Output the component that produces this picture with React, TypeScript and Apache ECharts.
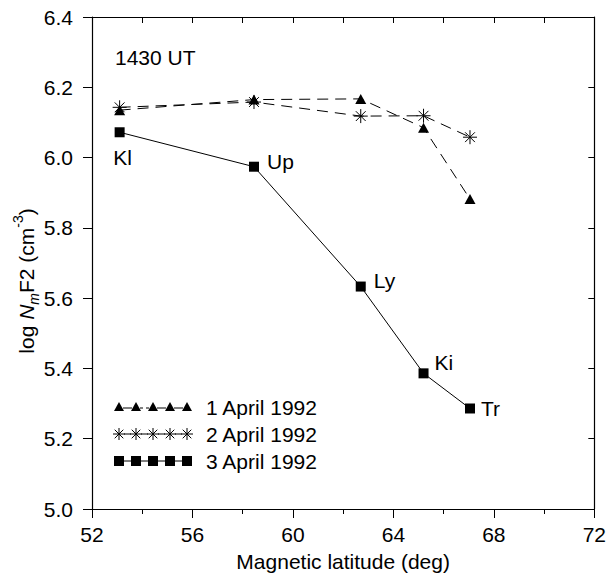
import React, { useEffect, useRef } from "react";
import * as echarts from "echarts";

const latitudes = [53.1, 58.45, 62.7, 65.2, 67.05];
const april1 = [6.135, 6.165, 6.167, 6.085, 5.882];
const april2 = [6.143, 6.158, 6.118, 6.119, 6.058];
const april3 = [6.072, 5.974, 5.633, 5.386, 5.286];
const stations = ["Kl", "Up", "Ly", "Ki", "Tr"];
const seriesNames = ["1 April 1992", "2 April 1992", "3 April 1992"];
const yTicks = [5.0, 5.2, 5.4, 5.6, 5.8, 6.0, 6.2, 6.4];
const xTicks = [52, 56, 60, 64, 68, 72];

const STAR = "path://M5,0L5,10M0,5L10,5M1.5,1.5L8.5,8.5M8.5,1.5L1.5,8.5";
const FONT = "Liberation Sans";

const labelPos: any[] = [
  { position: "bottom", distance: 10, offset: [3, 0] },
  { position: "right", distance: 8, offset: [0, -5] },
  { position: "right", distance: 8, offset: [0, -6] },
  { position: "right", distance: 6, offset: [0, -11] },
  { position: "right", distance: 6, offset: [0, 0] },
];

export default function App() {
  const ref = useRef<HTMLDivElement>(null);
  useEffect(() => {
    const chart = echarts.init(ref.current!, null, { renderer: "svg" });
    const pairs = (ys: number[]) => latitudes.map((x, i) => [x, ys[i]]);
    const legendX0 = 119;
    const legendDx = 17;
    const rows = [407, 434, 461];
    const legendGraphics: any[] = [];
    for (let k = 0; k < 5; k++) {
      const cx = legendX0 + k * legendDx;
      legendGraphics.push({
        type: "polygon",
        shape: { points: [[cx, rows[0] - 5], [cx + 5, rows[0] + 4], [cx - 5, rows[0] + 4]] },
        style: { fill: "#000" },
      });
      if (k < 4) {
        legendGraphics.push({
          type: "line",
          shape: { x1: cx + 4, y1: rows[0] + 1, x2: cx + 13, y2: rows[0] + 1 },
          style: { stroke: "#000", lineWidth: 1, lineDash: k === 1 ? [3, 3] : null },
        });
      }
      const s = 6;
      const y2 = rows[1];
      legendGraphics.push(
        { type: "line", shape: { x1: cx, y1: y2 - s, x2: cx, y2: y2 + s }, style: { stroke: "#000", lineWidth: 1 } },
        { type: "line", shape: { x1: cx - s, y1: y2, x2: cx + s, y2: y2 }, style: { stroke: "#000", lineWidth: 1 } },
        { type: "line", shape: { x1: cx - 4.3, y1: y2 - 4.3, x2: cx + 4.3, y2: y2 + 4.3 }, style: { stroke: "#000", lineWidth: 1 } },
        { type: "line", shape: { x1: cx + 4.3, y1: y2 - 4.3, x2: cx - 4.3, y2: y2 + 4.3 }, style: { stroke: "#000", lineWidth: 1 } }
      );
      if (k < 4) {
        legendGraphics.push({
          type: "line",
          shape: { x1: cx + 5, y1: y2, x2: cx + 12, y2: y2 },
          style: { stroke: "#000", lineWidth: 1 },
        });
      }
      legendGraphics.push({
        type: "rect",
        shape: { x: cx - 5, y: rows[2] - 5, width: 10, height: 10 },
        style: { fill: "#000" },
      });
      if (k < 4) {
        legendGraphics.push({
          type: "line",
          shape: { x1: cx + 4, y1: rows[2], x2: cx + 13, y2: rows[2] },
          style: { stroke: "#000", lineWidth: 1 },
        });
      }
    }
    seriesNames.forEach((n, i) => {
      legendGraphics.push({
        type: "text",
        x: 206,
        y: rows[i],
        style: { text: n, font: `21px '${FONT}'`, fill: "#000", textVerticalAlign: "middle" },
      });
    });
    legendGraphics.push({
      type: "text",
      x: 115,
      y: 57,
      style: { text: "1430 UT", font: `21px '${FONT}'`, fill: "#000", textVerticalAlign: "middle" },
    });
    legendGraphics.push({
      type: "text",
      x: 26,
      y: 281,
      rotation: Math.PI / 2,
      style: {
        text: "log {i|N}{sub|m}F2 (cm{sup|-3})",
        font: `21px '${FONT}'`,
        fill: "#000",
        align: "center",
        verticalAlign: "middle",
        rich: {
          i: { fontSize: 21, fontStyle: "italic", fontFamily: FONT, lineHeight: 30, verticalAlign: "middle" },
          sub: { fontSize: 14, fontStyle: "italic", fontFamily: FONT, lineHeight: 30, verticalAlign: "bottom" },
          sup: { fontSize: 14, fontFamily: FONT, lineHeight: 30, verticalAlign: "top" },
        },
      },
    });

    const axisBase = {
      type: "value",
      axisLine: { show: true, lineStyle: { color: "#000", width: 1.2 } },
      splitLine: { show: false },
    };

    chart.setOption({
      animation: false,
      backgroundColor: "#fff",
      textStyle: { fontFamily: FONT, color: "#000" },
      grid: { left: 92, right: 13, top: 17, bottom: 64 },
      xAxis: [
        {
          ...axisBase,
          position: "bottom",
          min: 52,
          max: 72,
          interval: 4,
          axisTick: { show: true, inside: false, length: 9, lineStyle: { color: "#000" } },
          minorTick: { show: true, splitNumber: 2, length: 5, lineStyle: { color: "#000" } },
          axisLabel: {
            fontSize: 21,
            color: "#000",
            margin: 15,
            fontFamily: FONT,
            formatter: (v: number) => (xTicks.includes(v) ? String(v) : ""),
          },
          name: "Magnetic latitude (deg)",
          nameLocation: "middle",
          nameGap: 42,
          nameTextStyle: { fontSize: 21, color: "#000", fontFamily: FONT },
        },
        {
          ...axisBase,
          position: "top",
          min: 52,
          max: 72,
          interval: 2,
          axisTick: { show: true, inside: true, length: 6, lineStyle: { color: "#000" } },
          axisLabel: { show: false },
        },
      ],
      yAxis: [
        {
          ...axisBase,
          position: "left",
          min: 5.0,
          max: 6.4,
          interval: 0.2,
          axisTick: { show: true, inside: false, length: 9, lineStyle: { color: "#000" } },
          axisLabel: {
            fontSize: 21,
            color: "#000",
            margin: 19,
            fontFamily: FONT,
            formatter: (v: number) => {
              const t = yTicks.find((y) => Math.abs(y - v) < 1e-6);
              return t !== undefined ? t.toFixed(1) : "";
            },
          },
        },
        {
          ...axisBase,
          position: "right",
          min: 5.0,
          max: 6.4,
          interval: 0.2,
          axisTick: { show: true, inside: true, length: 6, lineStyle: { color: "#000" } },
          axisLabel: { show: false },
        },
      ],
      series: [
        {
          name: seriesNames[0],
          type: "line",
          data: pairs(april1),
          symbol: "triangle",
          symbolSize: [11, 10],
          itemStyle: { color: "#000" },
          lineStyle: { color: "#000", width: 1, type: [11, 7] },
          z: 3,
        },
        {
          name: seriesNames[1],
          type: "line",
          data: pairs(april2),
          symbol: STAR,
          symbolSize: 14,
          itemStyle: { color: "none", borderColor: "#000", borderWidth: 1 },
          lineStyle: { color: "#000", width: 1, type: [11, 7] },
          z: 3,
        },
        {
          name: seriesNames[2],
          type: "line",
          data: pairs(april3).map((p, i) => ({
            value: p,
            label: {
              show: true,
              formatter: stations[i],
              fontSize: 21,
              color: "#000",
              fontFamily: FONT,
              ...labelPos[i],
            },
          })),
          symbol: "rect",
          symbolSize: 10,
          itemStyle: { color: "#000" },
          lineStyle: { color: "#000", width: 1 },
          z: 4,
        },
      ],
      graphic: legendGraphics,
    });
    return () => chart.dispose();
  }, []);
  return (
    <div
      ref={ref}
      style={{ position: "fixed", left: 0, top: 0, width: 609, height: 577, background: "#fff" }}
    />
  );
}
